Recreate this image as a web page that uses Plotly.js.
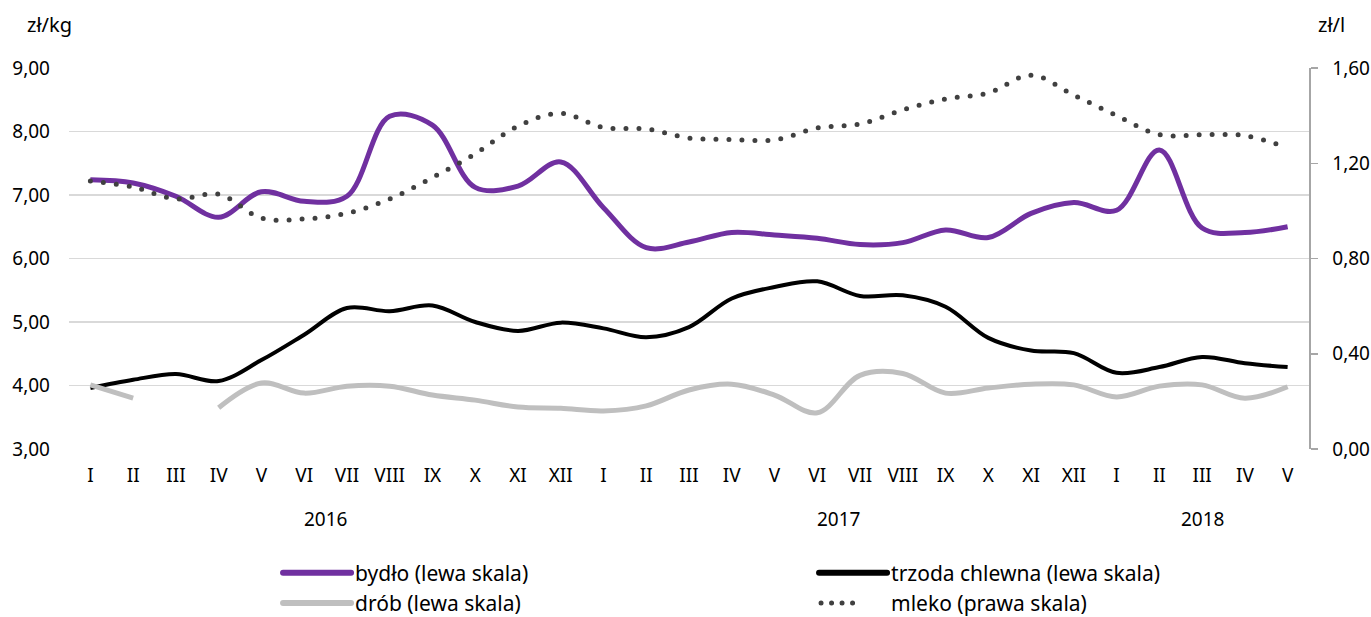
<!DOCTYPE html>
<html>
<head>
<meta charset="utf-8">
<script src="https://cdn.plot.ly/plotly-3.0.1.min.js"></script>
<style>html,body{margin:0;padding:0;background:#fff;}#chart{width:1371px;height:617px;}</style>
</head>
<body>
<div id="chart"></div>
<script>
var months = ["I","II","III","IV","V","VI","VII","VIII","IX","X","XI","XII",
              "I","II","III","IV","V","VI","VII","VIII","IX","X","XI","XII",
              "I","II","III","IV","V"];
var years = ["2016","2016","2016","2016","2016","2016","2016","2016","2016","2016","2016","2016",
             "2017","2017","2017","2017","2017","2017","2017","2017","2017","2017","2017","2017",
             "2018","2018","2018","2018","2018"];
var categories = months.map(function(m, i){ return years[i] + " " + m; });

var bydlo = [7.24,7.19,6.98,6.65,7.05,6.90,6.98,8.24,8.10,7.12,7.14,7.52,
             6.80,6.17,6.26,6.41,6.37,6.32,6.22,6.25,6.45,6.33,6.71,6.88,
             6.76,7.71,6.48,6.41,6.50];
var trzoda = [3.96,4.09,4.18,4.07,4.40,4.80,5.22,5.17,5.26,5.00,4.86,4.99,
              4.90,4.76,4.92,5.37,5.55,5.64,5.41,5.42,5.24,4.75,4.55,4.51,
              4.20,4.29,4.45,4.35,4.29];
var drob = [4.01,3.80,null,3.65,4.04,3.88,3.99,3.99,3.85,3.77,3.66,3.64,
            3.60,3.68,3.93,4.02,3.85,3.57,4.16,4.19,3.88,3.96,4.02,4.01,
            3.82,3.99,4.01,3.80,3.98];
var mleko = [1.125,1.10,1.05,1.07,0.97,0.966,0.99,1.05,1.14,1.24,1.356,1.41,
             1.35,1.344,1.306,1.30,1.298,1.348,1.365,1.424,1.47,1.495,1.57,1.486,
             1.40,1.32,1.32,1.316,1.265];

var yearLabels = ["2016","2017","2018"];
var yearPos = [5.5, 17.5, 26];

var FONT = "Noto Sans, Open Sans, sans-serif";

var traces = [
  {x: categories, y: bydlo, name: "bydło (lewa skala)", type: "scatter", mode: "lines",
   line: {color: "#7030a0", width: 5, shape: "spline", smoothing: 1}},
  {x: categories, y: trzoda, name: "trzoda chlewna (lewa skala)", type: "scatter", mode: "lines",
   line: {color: "#000000", width: 4, shape: "spline", smoothing: 1}},
  {x: categories, y: drob, name: "drób (lewa skala)", type: "scatter", mode: "lines", connectgaps: false,
   line: {color: "#bfbfbf", width: 5, shape: "spline", smoothing: 1}},
  {x: categories, y: mleko, name: "mleko (prawa skala)", type: "scatter", mode: "lines", yaxis: "y2",
   line: {color: "#404040", width: 5, shape: "spline", smoothing: 1, dash: "0px,13px"}}
];

var annotations = yearLabels.map(function(t, i){
  return {text: t, x: yearPos[i], xref: "x", y: 0, yref: "paper", yshift: -70,
          showarrow: false, font: {family: FONT, size: 19, color: "#000"}, xanchor: "center", yanchor: "middle"};
});
annotations.push({text: "zł/kg", xref: "paper", yref: "paper", x: -0.0161, y: 1.113, showarrow: false,
  xanchor: "center", yanchor: "middle", font: {family: FONT, size: 20, color: "#000"}});
annotations.push({text: "zł/l", xref: "paper", yref: "paper", x: 1.0185, y: 1.113, showarrow: false,
  xanchor: "center", yanchor: "middle", font: {family: FONT, size: 20, color: "#000"}});

var layout = {
  width: 1371, height: 617,
  margin: {l: 69, r: 62, t: 68, b: 168, autoexpand: false},
  paper_bgcolor: "#fff", plot_bgcolor: "#fff",
  separators: ", ",
  font: {family: FONT, size: 19, color: "#000"},
  showlegend: true,
  legend: {orientation: "h", x: 0.1694, xanchor: "left", y: -0.272, yanchor: "top",
           entrywidth: 455, itemwidth: 66, font: {family: FONT, size: 21, color: "#000"},
           traceorder: "normal"},
  xaxis: {type: "category", tickmode: "array", tickvals: categories, ticktext: months,
          range: [-0.5, 28.5], autorange: false,
          showgrid: false, zeroline: false, showline: false, ticks: "",
          ticklabelstandoff: 13, tickfont: {family: FONT, size: 19}},
  yaxis: {range: [3, 9], autorange: false, dtick: 1, tickformat: ".2f", showgrid: true, gridcolor: "#d9d9d9", gridwidth: 1.5,
          zeroline: false, showline: false, ticks: "", ticklabelstandoff: 18,
          tickfont: {family: FONT, size: 19}},
  yaxis2: {range: [0, 1.6], autorange: false, dtick: 0.4, tickformat: ".2f", overlaying: "y", side: "right",
           showgrid: false, zeroline: false, showline: true, linecolor: "#a6a6a6", linewidth: 1.5,
           ticks: "outside", ticklen: 7, tickcolor: "#a6a6a6", tickwidth: 1.5, ticklabelstandoff: 11,
           tickfont: {family: FONT, size: 19}},
  annotations: annotations
};

Plotly.newPlot("chart", traces, layout, {displayModeBar: false, staticPlot: true}).then(function(gd){
  var traceGroups = gd.querySelectorAll(".scatterlayer .trace");
  if (traceGroups[3]) {
    traceGroups[3].querySelectorAll("path.js-line").forEach(function(p){
      p.style.strokeLinecap = "round";
    });
  }
  var items = gd.querySelectorAll(".legend .traces");
  items.forEach(function(it, i){
    it.querySelectorAll(".legendlines path").forEach(function(p){
      p.setAttribute("d", "M4,0h68");
      p.style.strokeLinecap = "round";
      p.style.strokeWidth = "6px";
      if (i === 3) { p.style.strokeDasharray = "0px,10.5px"; p.style.strokeWidth = "5px"; p.setAttribute("d", "M6,0h42"); }
    });
  });
});
</script>
</body>
</html>
